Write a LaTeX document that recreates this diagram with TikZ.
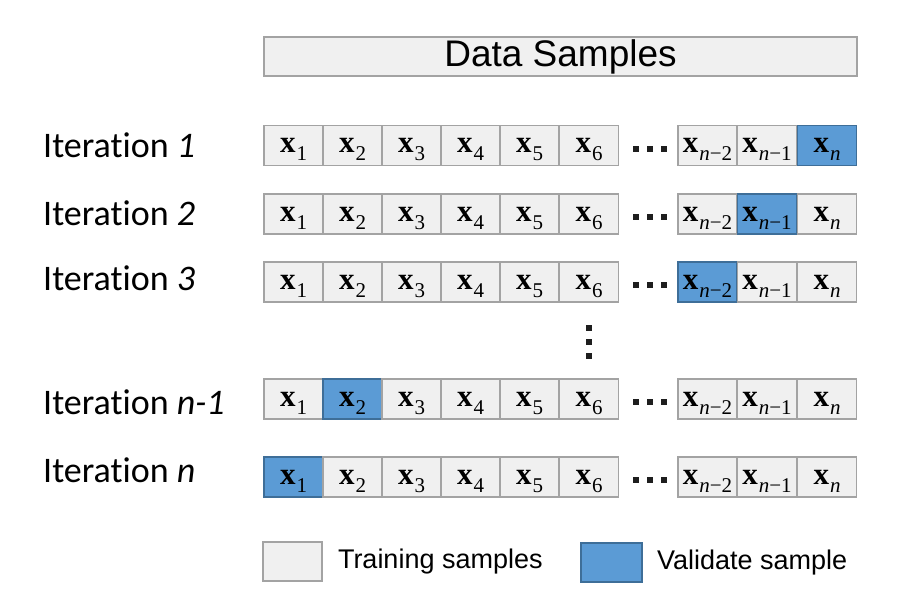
\documentclass[tikz,border=0pt]{standalone}
\usepackage{fontspec}
\setmainfont{Liberation Sans}
\newfontfamily\iterfont[Ligatures=NoCommon]{Carlito}
\newfontfamily\smpfont{Liberation Serif}
\usetikzlibrary{positioning}
\definecolor{trainfill}{RGB}{240,240,240}
\definecolor{traindraw}{RGB}{163,163,163}
\definecolor{valfill}{RGB}{91,155,213}
\definecolor{valdraw}{RGB}{62,110,152}
\definecolor{dotgrey}{RGB}{30,30,30}
% one sample: bold x with a lowered index
\newcommand{\smp}[1]{{\bfseries x}\kern1pt\raisebox{-8pt}{\fontsize{21}{21}\selectfont #1}}

\begin{document}
\begin{tikzpicture}[x=1pt,y=-1pt]
  \tikzstyle{cell}=[draw=traindraw,fill=trainfill,line width=1.6pt,minimum width=59pt,minimum height=40pt,inner sep=0pt,text height=20pt,text depth=6pt,font=\smpfont\fontsize{31}{32}\selectfont]
  \tikzstyle{valcell}=[cell,draw=valdraw,fill=valfill]
  \tikzstyle{iterlbl}=[anchor=base west,inner sep=0pt,font=\iterfont\fontsize{36}{40}\selectfont]
  \tikzstyle{sqdot}=[fill=dotgrey,minimum size=6pt,inner sep=0pt]
  \tikzstyle{lgtxt}=[inner sep=0pt,font=\fontsize{27}{30}\selectfont]
  \useasboundingbox (0,0) rectangle (919,605);
  \node[cell,minimum width=593pt,minimum height=39pt,text height=,text depth=,font=\fontsize{37}{40}\selectfont] (data) at (560.5,56.5) {Data Samples};
  % rows: name / centre / label base / number / validate cell
  \foreach \r/\y/\b/\k/\v in {1/145.5/157/1/9,2/214/225/2/8,3/282/290/3/7,4/399/414/n-1/2,5/477/482/n/1} {
    \node[iterlbl] (it\r) at (43,\b) {Iteration \textit{\k}};
    \foreach \c/\x/\t in {1/293.5/1,2/352.5/2,3/411.5/3,4/470.5/4,5/529.5/5,6/589/6,
                          7/707.5/\textit{n}−2,8/767/\textit{n}−1,9/827/\textit{n}} {
      \def\sty{cell}\ifnum\c=\v\def\sty{valcell}\fi
      \node[\sty] (c\r-\c) at (\x,\y) {\smp{\t}};
    }
    \foreach \i/\dx in {1/636,2/650,3/664}
      \node[sqdot] (hd\r-\i) at (\dx,\y+3) {};
  }
  \foreach \i/\dy in {1/328,2/342,3/356}
    \node[sqdot] (vd\i) at (589,\dy) {};
  % legend
  \node[cell,minimum height=39pt] (lgtrain) at (292.5,561.5) {};
  \node[lgtxt,anchor=west,right=15pt of lgtrain] (lgtraintxt) {Training samples};
  \node[valcell,minimum width=61pt,minimum height=39pt] (lgval) at (611.5,562.5) {};
  \node[lgtxt,anchor=west,right=14pt of lgval] (lgvaltxt) {Validate sample};
\end{tikzpicture}
\end{document}
